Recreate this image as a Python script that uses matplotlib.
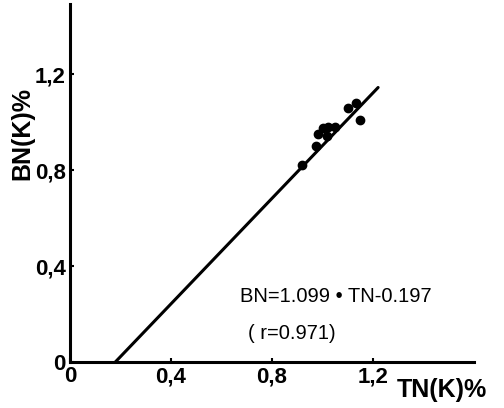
import numpy as np
import matplotlib
matplotlib.use('Agg')
import matplotlib.pyplot as plt

# measured points, TN(K)% vs BN(K)%
tn = [0.918, 0.973, 0.983, 1.003, 1.022, 1.017, 1.050, 1.102, 1.131, 1.149]
bn = [0.821, 0.901, 0.949, 0.974, 0.980, 0.942, 0.979, 1.057, 1.078, 1.008]

slope = 1.099
intercept = -0.197
fit_range = [0.179, 1.22]

xticks = [0, 0.4, 0.8, 1.2]
xticklabels = ['0', '0,4', '0,8', '1,2']
yticks = [0, 0.4, 0.8, 1.2]
yticklabels = ['0', '0,4', '0,8', '1,2']

plt.rcParams['font.family'] = ['Liberation Sans', 'DejaVu Sans']

fig = plt.figure(figsize=(5.04, 4.08), dpi=100)
ax = fig.add_axes([0.139, 0.1127, 0.8016, 0.8765])

xs = np.array(fit_range)
ax.plot(xs, slope * xs + intercept, color='black', lw=2.2, solid_capstyle='round')
ax.plot(tn, bn, 'o', color='black', ms=6)

ax.set_xlim(0, 1.6)
ax.set_ylim(0, 1.49)
for s in ['top', 'right']:
    ax.spines[s].set_visible(False)
for s in ['left', 'bottom']:
    ax.spines[s].set_linewidth(2.2)

ax.set_xticks(xticks)
ax.set_xticklabels(xticklabels)
ax.set_yticks(yticks)
ax.set_yticklabels(yticklabels)
ax.tick_params(direction='in', length=3, width=1.5, labelsize=16, pad=3)
for lab in ax.get_xticklabels() + ax.get_yticklabels():
    lab.set_fontweight('bold')

fig.text(0.045, 0.672, 'BN(K)%', rotation=90, fontsize=18, fontweight='bold',
         ha='center', va='center')
fig.text(0.877, 0.044, 'TN(K)%', fontsize=18, fontweight='bold',
         ha='center', va='center')

ax.text(0.673, 0.275, 'BN=1.099 • TN-0.197', fontsize=14.5, ha='left', va='center')
ax.text(0.705, 0.117, '( r=0.971)', fontsize=14.5, ha='left', va='center')

fig.savefig('out.png', dpi=100)
